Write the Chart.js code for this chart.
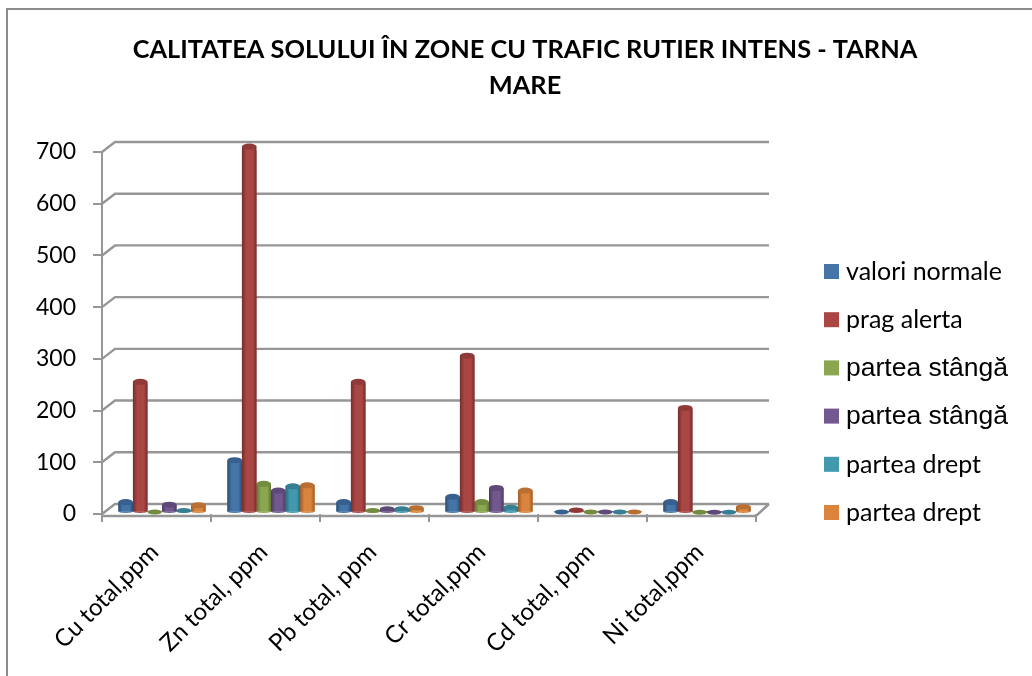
<!DOCTYPE html>
<html>
<head>
<meta charset="utf-8">
<title>Calitatea solului</title>
<script src="https://cdn.jsdelivr.net/npm/chart.js@4/dist/chart.umd.js"></script>
<style>
  body { margin: 0; background: #fff; }
  canvas { display: block; }
</style>
</head>
<body>
<canvas id="chart" width="1032" height="676"></canvas>
<script>
const categories = ['Cu total,ppm', 'Zn total, ppm', 'Pb total, ppm', 'Cr total,ppm', 'Cd total, ppm', 'Ni total,ppm'];
const titleLines = ['CALITATEA SOLULUI ÎN ZONE CU TRAFIC RUTIER INTENS - TARNA', 'MARE'];

const valoriNormale = [20, 100, 20, 30, 1, 20];
const pragAlerta = [250, 700, 250, 300, 5, 200];
const stanga1 = [1, 55, 4, 20, 1, 0.5];
const stanga2 = [15, 42, 7, 47, 1, 0.5];
const dreapta1 = [4, 50, 7, 10, 1, 0.5];
const dreapta2 = [14, 52, 9, 42, 1, 11];

const seriesNames = ['valori normale', 'prag alerta', 'partea stângă', 'partea stângă', 'partea drept', 'partea drept'];
const seriesValues = [valoriNormale, pragAlerta, stanga1, stanga2, dreapta1, dreapta2];
const colors = ['#4575a8', '#aa4644', '#8aa64e', '#71588f', '#4298af', '#db843d'];
const darkColors = ['#2c4d74', '#742e2c', '#5e7334', '#4b3a61', '#2a6a7c', '#9c5b26'];
const capColors = ['#38608e', '#8f3a38', '#748c40', '#5e4978', '#367f93', '#b96f32'];
const legendFonts = ['25px Lato', '25px Lato', '26.5px "Liberation Sans"', '26.5px "Liberation Sans"', '25px Lato', '25px Lato'];

const GRID = '#969696';
// depth of the fake 3D box
const DEPTH_X = 13;
const DEPTH_Y = -10;

// ── Back wall + floor ─────────────────────────────
const wallPlugin = {
  id: 'wall',
  afterLayout(chart) {
    // the title is centred over the whole frame, not the plot
    chart.titleBlock.left = 18;
    chart.titleBlock.right = 1032;
  },
  beforeDatasetsDraw(chart) {
    const ctx = chart.ctx;
    const y = chart.scales.y;
    const x = chart.scales.x;
    ctx.save();
    ctx.strokeStyle = GRID;
    ctx.lineWidth = 2.4;
    y.ticks.forEach(t => {
      const py = y.getPixelForValue(t.value);
      ctx.beginPath();
      ctx.moveTo(x.left, py);
      ctx.lineTo(x.left + DEPTH_X, py + DEPTH_Y);
      ctx.lineTo(x.right + DEPTH_X, py + DEPTH_Y);
      ctx.stroke();
    });
    ctx.beginPath();
    ctx.moveTo(x.left, y.bottom + 2);
    ctx.lineTo(x.right, y.bottom + 2);
    ctx.lineTo(x.right + DEPTH_X, y.bottom + DEPTH_Y);
    ctx.stroke();
    ctx.restore();
    // bars sit in the middle of the floor, a bit to the right
    ctx.save();
    ctx.translate(5.5, -1.5);
  },
  afterDatasetDraw(chart, args) {
    const ctx = chart.ctx;
    const i = args.index;
    args.meta.data.forEach(bar => {
      const w = bar.width;
      const left = bar.x - w / 2;
      const h = bar.base - bar.y;
      // tall bars read slightly above their tick, perspective of the 3D box
      const top = bar.y - h * 0.011;
      const g = ctx.createLinearGradient(left, 0, left + w, 0);
      g.addColorStop(0, darkColors[i]);
      g.addColorStop(0.3, colors[i]);
      g.addColorStop(0.75, colors[i]);
      g.addColorStop(1, darkColors[i]);
      ctx.fillStyle = g;
      ctx.fillRect(left, top, w, bar.base - top);
      ctx.beginPath();
      ctx.ellipse(bar.x, bar.base, w / 2, 1.5, 0, 0, Math.PI);
      ctx.fill();
      ctx.fillStyle = capColors[i];
      ctx.beginPath();
      ctx.ellipse(bar.x, top, w / 2, h > 6 ? 3 : 2.5, 0, 0, Math.PI * 2);
      ctx.fill();
    });
  },
  afterDatasetsDraw(chart) {
    chart.ctx.restore();
  }
};

// ── Legend (two entries use another font in the original) ──
const legendPlugin = {
  id: 'sideLegend',
  afterDraw(chart) {
    const ctx = chart.ctx;
    ctx.save();
    ctx.textBaseline = 'middle';
    chart.data.datasets.forEach((ds, i) => {
      const top = 264 + i * 48.2;
      ctx.fillStyle = colors[i];
      ctx.fillRect(824, top, 15, 15);
      ctx.fillStyle = '#000';
      ctx.font = legendFonts[i];
      ctx.fillText(ds.label, 846, top + 8);
    });
    ctx.restore();
  }
};

const framePlugin = {
  id: 'frame',
  beforeDraw(chart) {
    const ctx = chart.ctx;
    ctx.save();
    ctx.fillStyle = '#fff';
    ctx.fillRect(0, 0, 1032, 676);
    ctx.strokeStyle = '#8c8c8c';
    ctx.lineWidth = 2;
    ctx.beginPath();
    ctx.moveTo(7, 676);
    ctx.lineTo(7, 9);
    ctx.lineTo(1032, 9);
    ctx.stroke();
    ctx.restore();
  }
};

new Chart(document.getElementById('chart'), {
  type: 'bar',
  data: {
    labels: categories,
    datasets: seriesValues.map((vals, i) => ({
      label: seriesNames[i],
      data: vals,
      backgroundColor: colors[i],
      categoryPercentage: 0.8,
      barPercentage: 1,
      clip: false
    }))
  },
  options: {
    responsive: false,
    animation: false,
    layout: { padding: { top: 0, right: 276, left: 0, bottom: 0 } },
    plugins: {
      legend: { display: false },
      tooltip: { enabled: false },
      title: {
        display: true,
        text: titleLines,
        color: '#000',
        font: { family: 'Lato', size: 25.35, weight: 'bold', lineHeight: 1.42 },
        padding: { top: 32, bottom: 48 }
      }
    },
    scales: {
      x: {
        afterFit(s) { s.height = 162; },
        grid: { drawOnChartArea: false, color: GRID, lineWidth: 2, tickLength: 8, offset: true },
        border: { display: false },
        ticks: {
          color: '#000',
          font: { family: 'Lato', size: 24 },
          minRotation: 45,
          maxRotation: 45,
          labelOffset: -2,
          padding: 16
        }
      },
      y: {
        min: 0,
        max: 700,
        afterFit(s) { s.width = 102; },
        grid: { drawOnChartArea: false, color: GRID, lineWidth: 2, tickLength: 9 },
        border: { display: true, color: GRID, width: 2 },
        ticks: {
          color: '#000',
          stepSize: 100,
          font: { family: 'Lato', size: 23 },
          padding: 17
        }
      }
    }
  },
  plugins: [framePlugin, wallPlugin, legendPlugin]
});
</script>
</body>
</html>
